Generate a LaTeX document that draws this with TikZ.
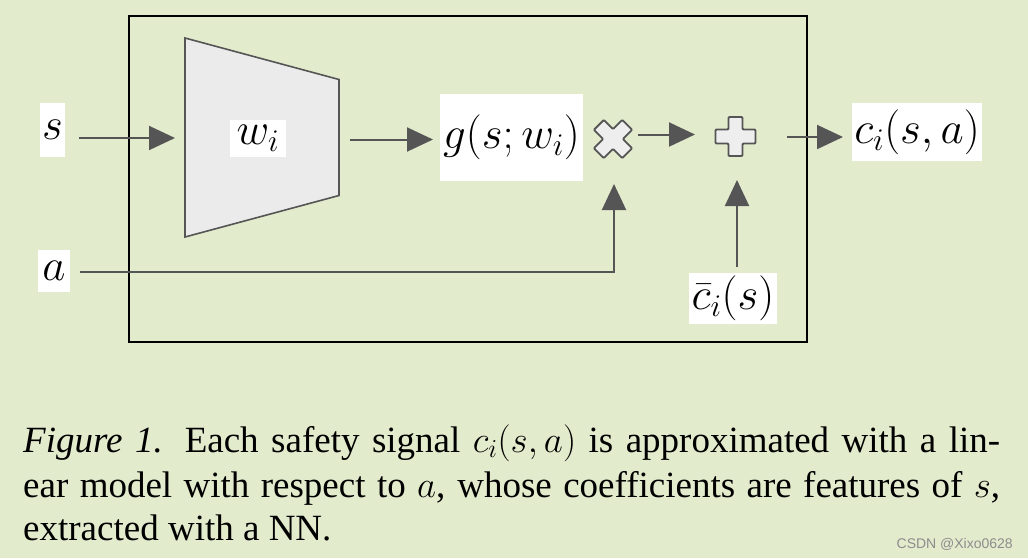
\RequirePackage{fix-cm}
\documentclass[tikz,border=0pt]{standalone}
\usepackage{graphicx}
\usepackage[no-math]{fontspec}
\setmainfont{Liberation Serif}
\newfontfamily\wmfont{Liberation Sans}
\usetikzlibrary{arrows.meta}
\definecolor{bg}{HTML}{E3EBCD}
\definecolor{dg}{HTML}{555555}
\definecolor{shapefill}{HTML}{EBEBEB}
\definecolor{symfill}{HTML}{EEEEEE}
\tikzset{
  lbl/.style={fill=white, inner sep=0pt, font=\fontsize{45}{54}\selectfont},
  arr/.style={draw=dg, line width=2pt, -{Triangle[length=26pt,width=24pt]}, color=dg},
  sym/.style={draw=dg, line width=1.8pt, fill=symfill, rounded corners=1pt},
  caption/.style={anchor=base west, inner sep=0pt, font=\fontsize{37}{44}\selectfont}
}
\begin{document}
\begin{tikzpicture}[x=1pt,y=-1pt]
\fill[bg] (0,0) rectangle (1028,558);
\useasboundingbox (0,0) rectangle (1028,558);
% frame
\draw[line width=2.2pt] (129,16) rectangle (807,342);
% trapezoid (network)
\draw[fill=shapefill, draw=dg, line width=1.6pt] (185,38) -- (339,79.5) -- (339,195.5) -- (185,237) -- cycle;
% labels
\node[lbl, minimum width=25pt, minimum height=54pt] (s) at (52.5,130) {$s$};
\node[lbl, minimum width=32pt, minimum height=42pt] (a) at (54,271) {$a$};
\node[lbl, minimum width=56pt, minimum height=37pt] (w) at (258,138.5) {$w_i$};
\node[lbl, minimum width=143pt, minimum height=87pt] (g) at (511.5,137.5) {$g(s;w_i)$};
\node[lbl, minimum width=130pt, minimum height=58pt] (c) at (917,132) {$c_i(s,a)$};
\node[lbl, minimum width=88pt, minimum height=51pt] (cb) at (733,298.5) {$\bar{c}_i(s)$};
% multiply symbol
\begin{scope}[shift={(613,139)}, rotate=45]
\draw[sym] (-7,-20) -- (7,-20) -- (7,-7) -- (20,-7) -- (20,7) -- (7,7) -- (7,20) -- (-7,20) -- (-7,7) -- (-20,7) -- (-20,-7) -- (-7,-7) -- cycle;
\end{scope}
% plus symbol
\begin{scope}[shift={(735.5,136.5)}]
\draw[sym] (-7,-19.5) -- (7,-19.5) -- (7,-7) -- (20,-7) -- (20,7) -- (7,7) -- (7,19.5) -- (-7,19.5) -- (-7,7) -- (-20,7) -- (-20,-7) -- (-7,-7) -- cycle;
\end{scope}
% connector coordinates
\coordinate (sOut) at (79,138);
\coordinate (trapIn) at (175,138);
\coordinate (trapOut) at (350,139.5);
\coordinate (gIn) at (433,139.5);
\coordinate (xOut) at (638,134.5);
\coordinate (pIn) at (695,134.5);
\coordinate (pOut) at (787,137);
\coordinate (cIn) at (843,137);
\coordinate (aOut) at (80,272);
\coordinate (xIn) at (614,184);
\coordinate (cbOut) at (737,267);
\coordinate (pInB) at (737,180);
% connectors
\draw[arr] (sOut) -- (trapIn);
\draw[arr] (trapOut) -- (gIn);
\draw[arr] (xOut) -- (pIn);
\draw[arr] (pOut) -- (cIn);
\draw[arr] (aOut) -| (xIn);
\draw[arr] (cbOut) -- (pInB);
% caption
\node[caption] (cap1) at (23,452) {\hbox to 977pt{\textit{Figure 1.} Each safety signal $c_i(s,a)$ is approximated with a lin-}};
\node[caption] (cap2) at (23,497) {\hbox to 977pt{ear model with respect to $a$, whose coefficients are features of $s$,}};
\node[caption] (cap3) at (23,540) {extracted with a NN.};
% watermark
\node[anchor=base east, inner sep=0pt, font=\wmfont\fontsize{14}{16}\selectfont, text=black!45] (wm) at (1013,548) {CSDN @Xixo0628};
\end{tikzpicture}
\end{document}
